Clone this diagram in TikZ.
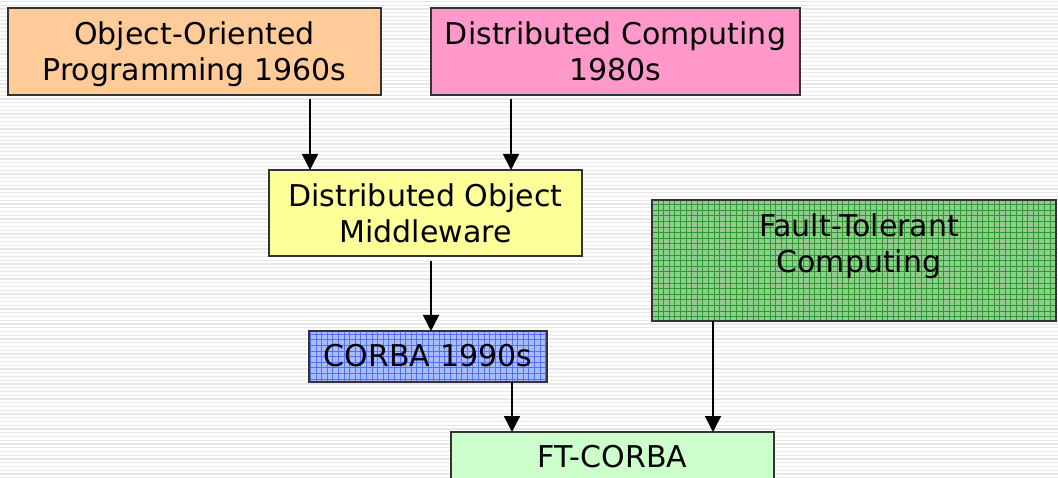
\documentclass[tikz,border=0pt]{standalone}
\usepackage{fontspec}
\setmainfont{DejaVu Sans}
\usetikzlibrary{arrows.meta}
\definecolor{cOrange}{HTML}{FFCC99}
\definecolor{cPink}{HTML}{FF99CC}
\definecolor{cYellow}{HTML}{FFFF99}
\definecolor{cFT}{HTML}{CCFFCC}
\definecolor{cGreen}{HTML}{8FCC8F}
\definecolor{cGreenLine}{HTML}{2E9A2E}
\definecolor{cBlue}{HTML}{ABBBFF}
\definecolor{cBlueLine}{HTML}{5272F5}
\definecolor{cStripe}{HTML}{E8E8E8}
\begin{document}
\begin{tikzpicture}[x=1pt,y=-1pt,
  box/.style={draw=black!80, line width=1.1pt, anchor=north west, inner sep=0pt, outer sep=0pt},
  lbl/.style={anchor=north, align=center, inner sep=0pt, font=\fontsize{30}{36}\selectfont},
  arr/.style={line width=1.5pt, -{Triangle[length=16pt,width=16pt]}},
  gridfill/.style={path picture={\draw[#1, line width=0.65pt, step=5.6pt] (path picture bounding box.south west) grid (path picture bounding box.north east);}}
]
\useasboundingbox (0,0) rectangle (1058,478);
\fill[white] (0,0) rectangle (1058,478);
\foreach \k in {0,...,127} {
  \draw[cStripe, line width=1.2pt] (0,{1.5+\k*3.75}) -- (1058,{1.5+\k*3.75});
}

% boxes
\node[box, fill=cOrange, minimum width=373pt, minimum height=87pt] (oop) at (8,8) {};
\node[box, fill=cPink, minimum width=369pt, minimum height=87pt] (dc) at (431,8) {};
\node[box, fill=cYellow, minimum width=313pt, minimum height=86pt] (dom) at (269,170) {};
\node[box, fill=cGreen, gridfill=cGreenLine, minimum width=404pt, minimum height=121pt] (ftc) at (652,200) {};
\node[box, fill=cBlue, gridfill=cBlueLine, minimum width=238pt, minimum height=51pt] (corba) at (309,331) {};
\node[box, fill=cFT, minimum width=323pt, minimum height=70pt] (ft) at (451,432) {};

% labels
\node[lbl] (toop) at ([yshift=-10pt]oop.north) {\rule{0pt}{26pt}Object-Oriented\\Programming 1960s};
\node[lbl] (tdc) at ([yshift=-10pt]dc.north) {\rule{0pt}{26pt}Distributed Computing\\1980s};
\node[lbl] (tdom) at ([yshift=-10pt]dom.north) {\rule{0pt}{26pt}Distributed Object\\Middleware};
\node[lbl] (tftc) at ([xshift=5pt,yshift=-10pt]ftc.north) {\rule{0pt}{26pt}Fault-Tolerant\\Computing};
\node[lbl] (tcorba) at ([yshift=-9pt]corba.north) {\rule{0pt}{26pt}CORBA 1990s};
\node[lbl] (tft) at ([yshift=-9pt]ft.north) {\rule{0pt}{26pt}FT-CORBA};

% connectors
\draw[arr] ([xshift=115.5pt,yshift=-4pt]oop.south) coordinate (a1) -- (a1 |- dom.north);
\draw[arr] ([xshift=-104.5pt,yshift=-4pt]dc.south) coordinate (a2) -- (a2 |- dom.north);
\draw[arr] ([xshift=5.5pt,yshift=-5pt]dom.south) coordinate (a3) -- (a3 |- corba.north);
\draw[arr] ([xshift=84pt]corba.south) coordinate (a4) -- (a4 |- ft.north);
\draw[arr] ([xshift=-141pt]ftc.south) coordinate (a5) -- (a5 |- ft.north);
\end{tikzpicture}
\end{document}
